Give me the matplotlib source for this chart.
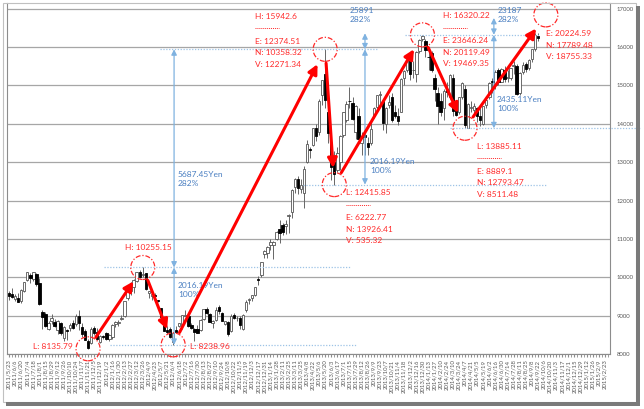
import numpy as np
import pandas as pd
import matplotlib
matplotlib.use("Agg")
import matplotlib.pyplot as plt
from matplotlib.patches import Ellipse, Rectangle

plt.rcParams['font.family'] = ['Lato', 'DejaVu Sans']

# weekly candles (Nikkei 225), first week 2011/5/23
first_week = "2011-05-23"
n_weeks = 198

opens = [9600, 9560, 9430, 9470, 9380, 9650, 9920, 10050, 9960, 10080,
         9850, 9100, 9050, 8650, 8870, 8840, 8620, 8800, 8420, 8620,
         8680, 8800, 8780, 9000, 8700, 8600, 8340, 8280, 8690, 8570,
         8300, 8480, 8550, 8400, 8450, 8780, 8800, 8900, 8980, 9450,
         9650, 9750, 9900, 10140, 10050, 10100, 9600, 9500, 9550, 9400,
         9200, 8950, 8630, 8650, 8300, 8620, 8720, 8760, 9000, 8980,
         8750, 8650, 8640, 8620, 8900, 9170, 9040, 8800, 8880, 9220,
         9080, 8780, 8830, 8600, 9010, 8930, 8950, 8650, 9150, 9400,
         9450, 9540, 9950, 10050, 10600, 10640, 10850, 10850, 11000, 11250,
         11370, 11340, 11600, 11700, 12350, 12550, 12300, 12200, 13000, 13350,
         13450, 13900, 13800, 14750, 15300, 14300, 13500, 13000, 12800, 13000,
         13700, 14100, 14600, 14550, 13800, 14200, 13500, 13700, 13500, 13500,
         14200, 14450, 14750, 14600, 14000, 14500, 14700, 14300, 14200, 14300,
         15200, 15400, 15700, 15400, 15300, 15900, 16200, 16150, 15750, 15850,
         15200, 14800, 14600, 14400, 14900, 14700, 15200, 14400, 14300, 14700,
         14900, 13900, 14400, 14350, 14400, 14200, 14000, 14500, 14700, 15100,
         15000, 15400, 15100, 15400, 15200, 15200, 15500, 15500, 14800, 15350,
         15550, 15450, 15700, 15950, 16300]
highs = [9650, 9720, 9560, 9600, 9700, 9880, 10140, 10100, 10150, 10120,
         9990, 9150, 9100, 8850, 9050, 8900, 8880, 8830, 8740, 8650,
         8800, 8880, 9050, 9150, 8800, 8650, 8400, 8700, 8720, 8680,
         8500, 8500, 8580, 8520, 8780, 8850, 8880, 9020, 9390, 9650,
         9870, 9950, 10130, 10190, 10255, 10110, 9650, 9640, 9600, 9420,
         9200, 9000, 8720, 8700, 8570, 8740, 8800, 9010, 9140, 8990,
         8820, 8680, 8760, 8900, 9170, 9220, 9080, 8880, 9230, 9290,
         9090, 8850, 8850, 9030, 9070, 9000, 9000, 9030, 9400, 9470,
         9550, 9740, 10040, 10400, 10700, 10820, 11000, 10950, 11200, 11500,
         11420, 11500, 11660, 12300, 12580, 12650, 12570, 12900, 13580, 13400,
         13900, 14000, 14650, 15150, 15943, 14400, 13900, 13300, 13400, 13700,
         14320, 14600, 14950, 14700, 14500, 14400, 13800, 13750, 13650, 14100,
         14450, 14750, 14850, 14650, 14450, 14750, 14800, 14500, 14400, 15200,
         15400, 15700, 15750, 15650, 15900, 16200, 16320, 16200, 15900, 15900,
         15300, 14950, 14800, 14900, 15100, 15300, 15300, 14500, 14700, 15100,
         15000, 14550, 14600, 14550, 14450, 14500, 14470, 14650, 15100, 15200,
         15400, 15450, 15450, 15500, 15400, 15460, 15650, 15550, 15350, 15600,
         15600, 15700, 15950, 16370, 16370]
lows = [9420, 9450, 9380, 9350, 9320, 9620, 9900, 9850, 9900, 9780,
        9270, 8650, 8700, 8620, 8790, 8700, 8520, 8500, 8350, 8360,
        8600, 8640, 8720, 8630, 8450, 8370, 8136, 8250, 8500, 8370,
        8280, 8400, 8370, 8350, 8400, 8700, 8730, 8880, 8970, 9400,
        9550, 9580, 9880, 9990, 10000, 9670, 9470, 9410, 9400, 9350,
        8920, 8600, 8530, 8420, 8239, 8540, 8700, 8660, 8980, 8700,
        8640, 8330, 8550, 8600, 8880, 9050, 8830, 8680, 8860, 9050,
        8860, 8750, 8480, 8580, 8910, 8870, 8660, 8620, 9100, 9300,
        9380, 9500, 9810, 10020, 10500, 10500, 10700, 10480, 10960, 10900,
        11090, 11130, 11150, 11550, 12200, 12170, 12200, 11800, 12980, 13100,
        13430, 13550, 13700, 14500, 14400, 13500, 12540, 12416, 12750, 12800,
        13650, 14050, 14400, 14100, 13600, 13550, 13200, 13180, 13200, 13450,
        14150, 14300, 14500, 13850, 13750, 14400, 14050, 14150, 13980, 14300,
        15000, 15350, 15150, 15200, 15100, 15850, 16150, 15750, 15400, 15350,
        14600, 13990, 14200, 14100, 14700, 14650, 14200, 14200, 14250, 14650,
        13885, 13900, 14300, 14200, 14050, 13950, 13960, 14400, 14650, 14800,
        14900, 15000, 15100, 15100, 15100, 15150, 15300, 14750, 14750, 15300,
        15350, 15400, 15600, 15900, 16150]
closes = [9521, 9492, 9514, 9351, 9678, 9868, 10137, 9974, 10132, 9833,
          9300, 8963, 8719, 8797, 8950, 8737, 8864, 8560, 8700, 8605,
          8747, 8678, 8988, 8801, 8514, 8374, 8160, 8643, 8536, 8401,
          8479, 8455, 8390, 8500, 8766, 8841, 8831, 8947, 9384, 9647,
          9777, 9929, 10129, 10011, 10083, 9688, 9637, 9561, 9520, 9380,
          8953, 8611, 8580, 8440, 8536, 8569, 8798, 9006, 9020, 8724,
          8669, 8566, 8555, 8891, 9162, 9070, 8839, 8871, 9159, 9110,
          8870, 8863, 8534, 9002, 8933, 8946, 8757, 9024, 9366, 9446,
          9527, 9737, 9940, 10395, 10688, 10801, 10913, 10926, 11191, 11153,
          11173, 11385, 11606, 12283, 12560, 12338, 12397, 12833, 13485, 13316,
          13884, 13694, 14607, 15138, 14612, 13774, 12877, 12686, 13230, 13677,
          14309, 14506, 14589, 14129, 14466, 13615, 13650, 13660, 13389, 13860,
          14404, 14742, 14760, 14024, 14404, 14561, 14088, 14201, 14086, 15165,
          15381, 15661, 15299, 15403, 15870, 16178, 16291, 15912, 15734, 15391,
          14914, 14462, 14313, 14865, 14841, 15274, 14327, 14224, 14696, 15063,
          13960, 14516, 14429, 14457, 14199, 14097, 14462, 14632, 15077, 15097,
          15349, 15095, 15437, 15164, 15215, 15457, 15523, 14778, 15318, 15539,
          15424, 15668, 15948, 16321, 16229]

# swing highs / lows (week index, level)
swing_weeks = [26, 44, 54, 104, 107, 136, 150]
swing_levels = [8135.79, 10255.15, 8238.96, 15942.6, 12415.85, 16320.22, 13885.11]
target_week = 176.6
target_level = 16840

# red text blocks next to each swing point
swing_texts = [
    ["L: 8135.79"],
    ["H: 10255.15"],
    ["L: 8238.96"],
    ["H: 15942.6", "E: 12374.51", "N: 10358.32", "V: 12271.34"],
    ["L: 12415.85", "E: 6222.77", "N: 13926.41", "V: 535.32"],
    ["H: 16320.22", "E: 23646.24", "N: 20119.49", "V: 19469.35"],
    ["L: 13885.11", "E: 8889.1", "N: 12793.47", "V: 8511.48"],
]
target_texts = ["E: 20224.59", "N: 17789.48", "V: 18755.33"]

# blue measuring bars: week, levels bottom/middle/top, labels
measure_weeks = [54.3, 117.1, 159.5]
measure_levels = [[8238.96, 10255.15, 15942.6],
                  [12415.85, 15942.6, 16360],
                  [13885.11, 16320.22, 16760]]
measure_low_text = ["2016.19Yen\n100%", "2016.19Yen\n100%", "2435.11Yen\n100%"]
measure_high_text = ["5687.45Yen\n282%", "25891\n282%", "23187\n282%"]

# dotted reference levels: level, from week, to week
ref_levels = [10255.15, 8238.96, 15942.6, 12415.85, 16320.22, 13885.11]
ref_from = [31.3, 33.2, 49.7, 96.7, 130.3, 145.0]
ref_to = [112.2, 114.5, 121.4, 177.0, 174.7, 207.6]

RED = '#ff2a2a'
BLUE = '#4a7fc1'
LBLUE = '#9dc3e6'

W, H = 644, 409
fig = plt.figure(figsize=(W / 100, H / 100), dpi=100)
ax = fig.add_axes([7 / W, 1 - 354 / H, 603 / W, 351 / H])
x0, x1 = -0.66, 197.7
y0, y1 = 8000, 17150
ax.set_xlim(x0, x1)
ax.set_ylim(y0, y1)
ppw = 603 / (x1 - x0)        # pixels per week
ppu = 351 / (y1 - y0)        # pixels per yen

# grid + axes
ax.set_yticks(range(8000, 17001, 1000))
ax.yaxis.tick_right()
ax.tick_params(axis='y', length=0, labelsize=4.3, labelcolor='#595959', pad=5)
ax.grid(axis='y', color='#a6a6a6', lw=0.9)
ax.set_axisbelow(True)
for s in ['left', 'right', 'bottom']:
    ax.spines[s].set_color('#8c8c8c')
    ax.spines[s].set_linewidth(0.8)
ax.spines['top'].set_visible(False)

dates = pd.date_range(first_week, periods=n_weeks, freq='7D')
labels = [f"{d.year}/{d.month}/{d.day}" for d in dates]
ax.set_xticks(range(0, n_weeks, 2))
ax.set_xticklabels(labels[::2], rotation=90, fontsize=4.3, color='#595959')
ax.set_xticks(range(n_weeks), minor=True)
ax.tick_params(axis='x', which='both', length=2, color='#8c8c8c', pad=2)

# candles
wk = np.arange(len(closes))
o = np.array(opens, dtype=float)
c = np.array(closes, dtype=float)
up = c >= o
ax.vlines(wk, lows, highs, color='#666666', lw=0.7, zorder=2)
body_lo = np.minimum(o, c)
body_h = np.maximum(np.abs(c - o), 15)
ax.bar(wk[up], body_h[up], 0.8, bottom=body_lo[up], color='white',
       edgecolor='#555555', lw=0.6, zorder=3)
ax.bar(wk[~up], body_h[~up], 0.8, bottom=body_lo[~up], color='black',
       edgecolor='black', lw=0.6, zorder=3)

# dotted reference levels
for lv, a, b in zip(ref_levels, ref_from, ref_to):
    ax.plot([a, b], [lv, lv], color=LBLUE, lw=0.9, ls=(0, (1, 1.3)),
            zorder=4, clip_on=False)

# measuring bars
for mw, lv in zip(measure_weeks, measure_levels):
    for a, b in [(lv[0], lv[1]), (lv[1], lv[2])]:
        ax.annotate('', xy=(mw, a), xytext=(mw, b),
                    arrowprops=dict(arrowstyle='<|-|>', color='#7fb2e0', lw=0.9,
                                    mutation_scale=8, shrinkA=0, shrinkB=0),
                    zorder=5)
measure_text_pos = [  # (offset px from bar, level) for low / high label
    [(4, 9668), (4, 12560)],
    [(5, 12901), (-15, 16837)],
    [(3, 14517), (4, 16837)],
]
for mw, pos, tlo, thi in zip(measure_weeks, measure_text_pos, measure_low_text, measure_high_text):
    for (dx, lv), t in zip(pos, [tlo, thi]):
        ax.text(mw + dx / ppw, lv, t, color=BLUE, fontsize=6, ha='left', va='center',
                linespacing=1.45, zorder=6)

# red circles
circ_w = 24 / ppw
circ_h = 24 / ppu
for sw, sl in zip(swing_weeks + [target_week], swing_levels + [target_level]):
    ax.add_patch(Ellipse((sw, sl), circ_w, circ_h, fill=False, ec=RED, lw=0.9,
                         ls=(0, (4, 1.5, 1, 1.5)), zorder=6, clip_on=False))

# red arrows swing to swing
pts = list(zip(swing_weeks, swing_levels)) + [(target_week, target_level)]
for (a_w, a_l), (b_w, b_l) in zip(pts[:-1], pts[1:]):
    ax.annotate('', xy=(b_w, b_l), xytext=(a_w, a_l),
                arrowprops=dict(arrowstyle='-|>', color='#ff0000', lw=2.2,
                                mutation_scale=14, shrinkA=10, shrinkB=12),
                zorder=7)

# red labels: offsets in pixels from the swing point (x right, y up)
text_offsets = [
    (-15, 2, 'right'),
    (6, 20, 'center'),
    (17, -2, 'left'),
    (-70, 33, 'left'),
    (12, -8, 'left'),
    (21, 19, 'left'),
    (12, -18, 'left'),
]
line_gap = 11.5
for (sw, sl), txts, (dx, dy, ha) in zip(pts, swing_texts, text_offsets):
    ax.text(sw + dx / ppw, sl + dy / ppu, txts[0], color=RED, fontsize=6,
            ha=ha, va='center', zorder=8)
    if len(txts) > 1:
        sep_y = sl + (dy - 12) / ppu
        ax.plot([sw + dx / ppw, sw + (dx + 24) / ppw], [sep_y, sep_y],
                color=RED, lw=0.7, ls=(0, (1, 1)), zorder=8)
        for k, t in enumerate(txts[1:]):
            ax.text(sw + dx / ppw, sl + (dy - 25 - k * line_gap) / ppu, t,
                    color=RED, fontsize=6, ha='left', va='center', zorder=8)
for k, t in enumerate(target_texts):
    ax.text(target_week, target_level + (-19 - k * line_gap) / ppu, t,
            color=RED, fontsize=6, ha='left', va='center', zorder=8)

# picture frame with shadow
fig.add_artist(Rectangle((3 / W, 1 - 402 / H), 633 / W, 399 / H,
                         transform=fig.transFigure, fill=False, ec='#c0c0c0', lw=0.8))
fig.add_artist(Rectangle((636 / W, 1 - 406 / H), 4 / W, 400 / H,
                         transform=fig.transFigure, fc='#7a7a7a', ec='none'))
fig.add_artist(Rectangle((6 / W, 1 - 406 / H), 634 / W, 4 / H,
                         transform=fig.transFigure, fc='#7a7a7a', ec='none'))

fig.savefig('out.png', dpi=100)
